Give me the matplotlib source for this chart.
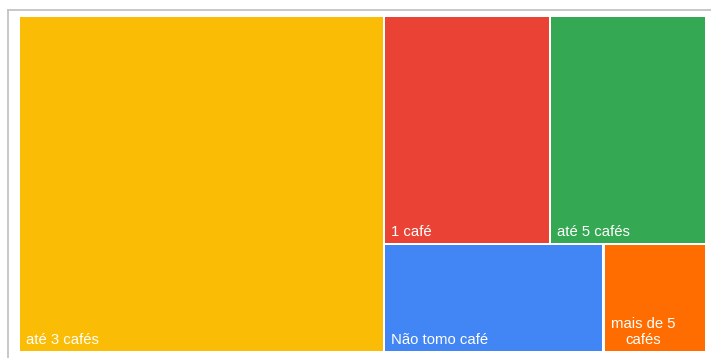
import matplotlib.pyplot as plt
from matplotlib.patches import Rectangle

plt.rcParams['font.family'] = ['Liberation Sans', 'DejaVu Sans']

# share of answers per group (percent)
labels = ['até 3 cafés', '1 café', 'até 5 cafés', 'Não tomo café', 'mais de 5\ncafés']
values = [53.1, 16.4, 15.4, 10.3, 4.8]
colors = ['#FABC05', '#EA4335', '#34A853', '#4285F4', '#FF6D01']

W, H = 711, 358
fig = plt.figure(figsize=(W / 100, H / 100), dpi=100)
ax = fig.add_axes([0, 0, 1, 1])
ax.set_xlim(0, W)
ax.set_ylim(H, 0)
ax.axis('off')

# frame lines on top and left
ax.plot([7.5, W], [9.5, 9.5], color='#c4c4c4', lw=1.3)
ax.plot([7.5, 7.5], [9.5, H], color='#c4c4c4', lw=1.3)

# tiles area and gap between tiles
gap = 2.6
x0, y0 = 20 - gap / 2, 17 - gap / 2
w, h = 685 + gap, 334 + gap

total = sum(values)
big, r, g, b, o = values
rest = total - big

bw = w * big / total
top_h = h * (r + g) / rest
rx_w = (w - bw) * r / (r + g)
bx_w = (w - bw) * b / (b + o)

slots = [
    (x0, y0, bw, h),
    (x0 + bw, y0, rx_w, top_h),
    (x0 + bw + rx_w, y0, w - bw - rx_w, top_h),
    (x0 + bw, y0 + top_h, bx_w, h - top_h),
    (x0 + bw + bx_w, y0 + top_h, w - bw - bx_w, h - top_h),
]

for (sx, sy, sw, sh), lab, col in zip(slots, labels, colors):
    ax.add_patch(Rectangle((sx + gap / 2, sy + gap / 2), sw - gap, sh - gap,
                           facecolor=col, edgecolor='none'))
    ax.text(sx + gap / 2 + 5.5, sy + sh - gap / 2 - 7, lab, color='white',
            fontsize=10.7, ha='left', va='baseline', multialignment='center',
            linespacing=1.2)

fig.savefig('out.png', dpi=100)
